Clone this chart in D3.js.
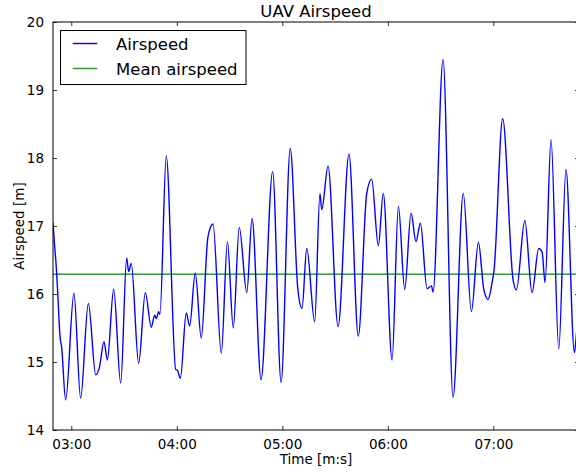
<!DOCTYPE html>
<html>
<head>
<meta charset="utf-8">
<script src="https://cdn.jsdelivr.net/npm/d3@7"></script>
<style>
  html, body { margin: 0; padding: 0; background: #fff; }
  svg { display: block; font-family: "DejaVu Sans", sans-serif; }
</style>
</head>
<body>
<svg id="chart" width="576" height="474"></svg>
<script>
// Flight time in seconds since start of log
const timeSec = [
  169.6, 170.3, 171.7, 172.3, 173.6, 174.5, 176.8, 181.5, 185.3, 189.7,
  193.9, 195.9, 198.6, 200.5, 204.1, 208.1, 211.5, 212.6, 214.1, 218.3,
  222.1, 225.5, 227.4, 228.3, 229.7, 230.4, 234.0, 239.4, 240.3, 242.0,
  245.4, 247.3, 250.5, 253.9, 257.7, 260.6, 265.3, 268.8, 272.1, 275.5,
  279.8, 282.8, 287.9, 294.5, 299.3, 304.5, 308.8, 311.2, 313.9, 318.4,
  321.4, 322.4, 326.0, 331.7, 337.9, 343.2, 348.0, 350.8, 354.6, 357.4,
  362.4, 366.0, 369.6, 373.2, 376.0, 378.5, 382.3, 384.8, 385.7, 391.4,
  397.1, 402.9, 407.5, 411.5, 414.5, 417.0, 419.3, 420.4, 425.3, 431.2,
  433.1, 437.9, 442.0, 445.8, 447.7, 449.4, 452.8, 457.2, 461.3, 466.1,
  467.3, 468.7
];
// Measured airspeed
const airspeed = [
  17.05, 16.79, 16.30, 16.01, 15.37, 15.22, 14.44, 16.01, 14.47, 15.86,
  14.81, 14.91, 15.30, 15.03, 16.07, 14.69, 16.53, 16.33, 16.45, 14.98,
  16.02, 15.51, 15.69, 15.64, 15.74, 15.70, 18.03, 14.89, 14.88, 14.76,
  15.72, 15.53, 16.31, 15.35, 16.84, 17.03, 15.13, 16.77, 15.50, 16.98,
  16.02, 17.11, 14.74, 17.80, 14.70, 18.14, 16.08, 15.79, 16.67, 15.59,
  17.48, 17.24, 17.88, 15.52, 18.06, 15.38, 17.48, 17.69, 16.71, 17.48,
  15.03, 17.29, 16.07, 17.19, 16.77, 17.04, 16.08, 16.12, 16.03, 19.45,
  14.48, 17.48, 15.74, 16.76, 16.08, 15.92, 16.17, 16.35, 18.58, 16.21,
  16.06, 17.08, 16.02, 16.67, 16.62, 16.17, 18.27, 15.19, 17.83, 15.14,
  15.43, 15.90
];
const meanAirspeed = 16.29;
const xTicks = [180, 240, 300, 360, 420];
const yTicks = [14, 15, 16, 17, 18, 19, 20];
const seriesNames = ["Airspeed", "Mean airspeed"];

const plot = { left: 53, right: 579, top: 22, bottom: 430 };
const svg = d3.select("#chart");

const x = d3.scaleLinear().domain([169.6, 468.7]).range([plot.left, plot.right]);
const y = d3.scaleLinear().domain([14, 20]).range([plot.bottom, plot.top]);

const fmt = s => {
  const m = Math.floor(s / 60), sec = Math.round(s % 60);
  return String(m).padStart(2, "0") + ":" + String(sec).padStart(2, "0");
};

svg.append("defs").append("clipPath").attr("id", "clip")
  .append("rect")
  .attr("x", plot.left).attr("y", plot.top)
  .attr("width", plot.right - plot.left).attr("height", plot.bottom - plot.top);

const data = timeSec.map((t, i) => ({ t, v: airspeed[i] }));

const g = svg.append("g").attr("clip-path", "url(#clip)");

g.append("line")
  .attr("x1", plot.left).attr("x2", plot.right)
  .attr("y1", y(meanAirspeed)).attr("y2", y(meanAirspeed))
  .attr("stroke", "#008000").attr("stroke-width", 1.5).attr("opacity", 0.8);

g.append("path")
  .datum(data)
  .attr("fill", "none")
  .attr("stroke", "#0000ff")
  .attr("stroke-width", 1.4)
  .attr("stroke-linejoin", "round")
  .attr("d", d3.line().x(d => x(d.t)).y(d => y(d.v)).curve(d3.curveMonotoneX));

// Axes: ticks point inward on all four sides
const tickLen = 4;
const axStyle = sel => {
  sel.select(".domain").remove();
  sel.selectAll(".tick line").attr("stroke", "#000").attr("stroke-width", 0.8);
  sel.selectAll(".tick text").attr("fill", "#000").style("font-size", "13.5px")
    .style("font-family", "DejaVu Sans, sans-serif");
};

svg.append("g").attr("transform", `translate(0,${plot.bottom})`)
  .call(d3.axisBottom(x).tickValues(xTicks).tickFormat(fmt).tickSizeInner(-tickLen).tickSizeOuter(0).tickPadding(9))
  .call(axStyle);
svg.append("g").attr("transform", `translate(0,${plot.top})`)
  .call(d3.axisTop(x).tickValues(xTicks).tickFormat("").tickSizeInner(-tickLen).tickSizeOuter(0))
  .call(axStyle);
svg.append("g").attr("transform", `translate(${plot.left},0)`)
  .call(d3.axisLeft(y).tickValues(yTicks).tickFormat(d3.format("d")).tickSizeInner(-tickLen).tickSizeOuter(0).tickPadding(9))
  .call(axStyle);
svg.append("g").attr("transform", `translate(${plot.right},0)`)
  .call(d3.axisRight(y).tickValues(yTicks).tickFormat("").tickSizeInner(-tickLen).tickSizeOuter(0))
  .call(axStyle);

// Frame
svg.append("rect")
  .attr("x", plot.left).attr("y", plot.top)
  .attr("width", plot.right - plot.left).attr("height", plot.bottom - plot.top)
  .attr("fill", "none").attr("stroke", "#000").attr("stroke-width", 1);

// Title and axis labels
svg.append("text").attr("x", (plot.left + plot.right) / 2).attr("y", 17)
  .attr("text-anchor", "middle").style("font-size", "16.5px").text("UAV Airspeed");
svg.append("text").attr("x", (plot.left + plot.right) / 2).attr("y", 464)
  .attr("text-anchor", "middle").style("font-size", "13.5px").text("Time [m:s]");
svg.append("text").attr("transform", `translate(24,${(plot.top + plot.bottom) / 2}) rotate(-90)`)
  .attr("text-anchor", "middle").style("font-size", "13.5px").text("Airspeed [m]");

// Legend
const legend = svg.append("g");
legend.append("rect").attr("x", 60.5).attr("y", 30.5).attr("width", 185.5).attr("height", 54)
  .attr("fill", "#fff").attr("stroke", "#000").attr("stroke-width", 1);
const legendColors = ["#0000ff", "#008000"];
seriesNames.forEach((name, i) => {
  const ly = 43.5 + i * 25;
  legend.append("line").attr("x1", 72.7).attr("x2", 97.3).attr("y1", ly).attr("y2", ly)
    .attr("stroke", legendColors[i]).attr("stroke-width", i === 0 ? 1.4 : 1.5)
    .attr("opacity", i === 0 ? 1 : 0.8);
  legend.append("text").attr("x", 116).attr("y", ly + 6).style("font-size", "16.5px").text(name);
});
</script>
</body>
</html>
